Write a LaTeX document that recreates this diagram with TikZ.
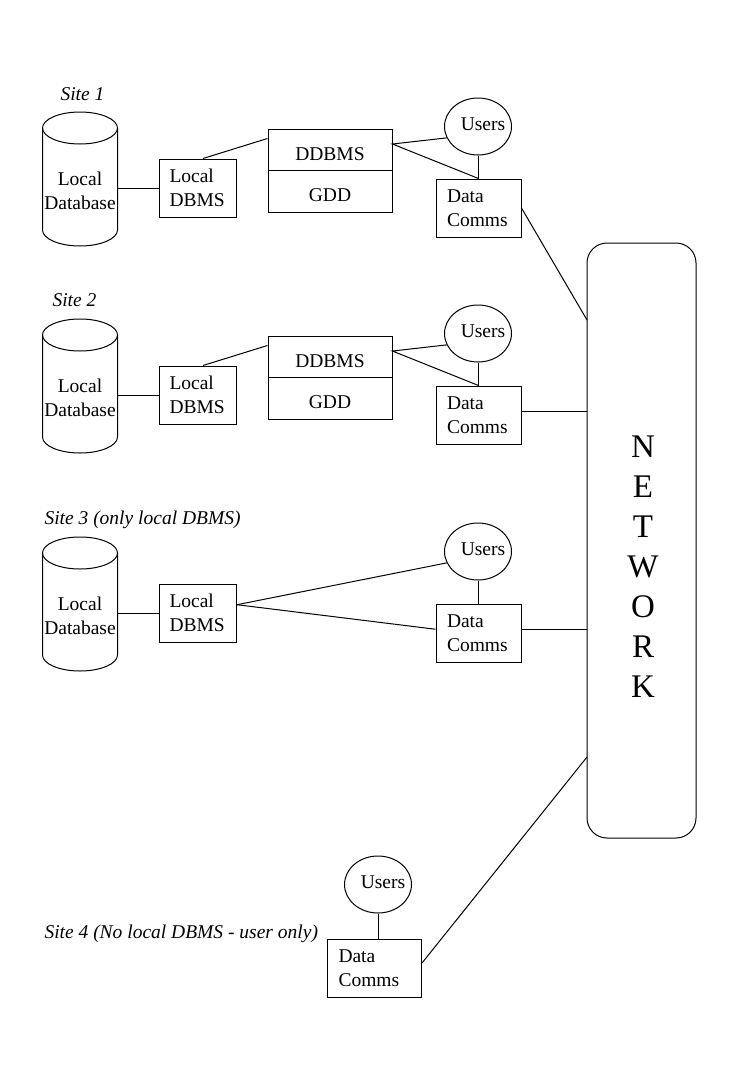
\documentclass[tikz,border=0pt]{standalone}
\usepackage{fontspec}
\setmainfont{Liberation Serif}
\usetikzlibrary{shapes.geometric,calc}
\tikzset{
  every node/.style={font=\fontsize{19.5}{23.5}\selectfont},
  box/.style={draw, rectangle, inner xsep=10pt, inner ysep=0pt, minimum height=58pt, align=left},
  half/.style={draw, rectangle, inner sep=0pt, minimum width=124pt, align=center, text height=21pt, text depth=0pt},
  users/.style={draw, ellipse, inner sep=0pt, minimum width=67pt, minimum height=57pt},
  dbtext/.style={inner sep=0pt, align=center},
  sitelabel/.style={anchor=base west, inner sep=0pt, font=\fontsize{19.5}{23.5}\selectfont\itshape}
}
\newcommand\usertext{\raisebox{5pt}{\makebox[0pt]{\hspace{10pt}Users}}}
\newcommand\commonsite[2]{%
  \begin{scope}[yshift=-#2pt]
    \draw (80,128) ellipse [x radius=37.5pt, y radius=16pt];
    \draw (42.5,128) -- (42.5,230) arc[start angle=180, end angle=360, x radius=37.5pt, y radius=16pt] -- (117.5,128);
    \node[dbtext] (db#1) at (80,191) {Local\\Database};
    \coordinate (dbr#1) at (117.5,188);
    \node[box, text width=57pt] (ld#1) at (198,188) {Local\\DBMS};
    \node[users] (u#1) at (478,126.5) {\usertext};
    \node[box, inner xsep=11pt, text width=63pt] (dc#1) at (478.5,208) {Data\\Comms};
  \end{scope}
  \draw (dbr#1) -- (ld#1.west);
  \draw (u#1.south) -- (u#1.south |- dc#1.north);
}
\newcommand\ddsite[2]{%
  \begin{scope}[yshift=-#2pt]
    \node[half, minimum height=41pt] (dd#1) at (330,149.5) {DDBMS};
    \node[half, minimum height=42pt] (gd#1) at (330,191) {GDD};
  \end{scope}
  \draw ($(ld#1.north)+(5,0)$) -- (dd#1.170);
  \draw (u#1.200) -- (dd#1.5) -- (dc#1.north);
}
\begin{document}
\begin{tikzpicture}[x=1pt, y=-1pt, line width=1pt]
  \fill[white] (0,0) rectangle (752,1087);
  \path[use as bounding box] (0,0) rectangle (752,1087);

  % Site labels
  \node[sitelabel] (s1) at (60,100.5) {Site 1};
  \node[sitelabel] (s2) at (52,306.5) {Site 2};
  \node[sitelabel] (s3) at (44,524) {Site 3 (only local DBMS)};
  \node[sitelabel] (s4) at (44,938.5) {Site 4 (No local DBMS - user only)};

  % Sites 1-3
  \commonsite{1}{0}
  \ddsite{1}{0}
  \commonsite{2}{207}
  \ddsite{2}{207}
  \commonsite{3}{425}
  \draw (ld3.12) -- (u3.200);
  \draw (ld3.12) -- (dc3.175);

  % Site 4
  \node[users] (u4) at (378,884.5) {\usertext};
  \node[box, inner xsep=11pt, text width=72pt] (dc4) at (374.5,968) {Data\\Comms};
  \draw (u4.south) -- (u4.south |- dc4.north);

  % Network
  \node[draw, rounded corners=20pt, minimum width=109pt, minimum height=595pt, inner sep=0pt] (net) at (641.5,540.5) {};
  \node[inner sep=0pt, align=center, font=\fontsize{33}{40}\selectfont] (nt) at (643,567) {N\\E\\T\\W\\O\\R\\K};
  \coordinate (n1) at (587,320);
  \coordinate (n4) at (587,757);
  \draw (dc1.east) -- (n1);
  \draw (dc2.5) -- (dc2.5 -| net.west);
  \draw (dc3.5) -- (dc3.5 -| net.west);
  \draw (dc4.6) -- (n4);
\end{tikzpicture}
\end{document}
